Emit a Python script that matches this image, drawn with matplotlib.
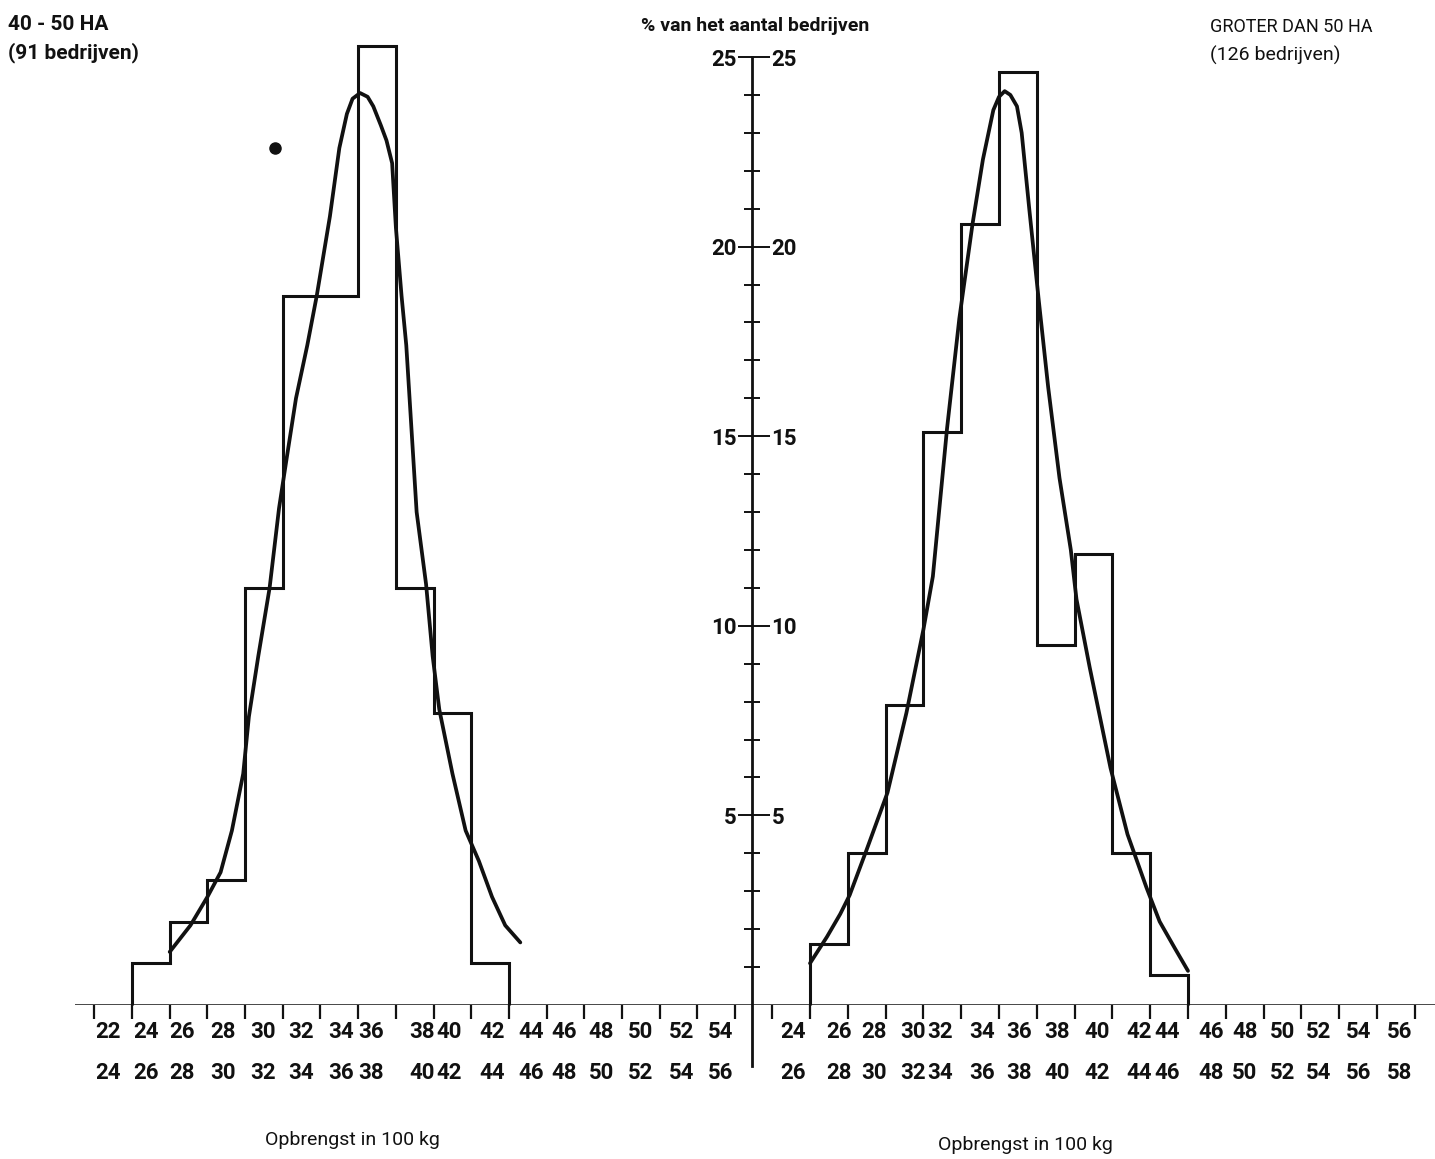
import matplotlib
matplotlib.use("Agg")
import matplotlib.pyplot as plt
from matplotlib.ticker import FixedLocator

plt.rcParams['font.family'] = ['Roboto', 'DejaVu Sans']

# ---------- data ----------

# bins are 2 units wide (opbrengst in 100 kg), lower edges
left_edges = list(range(24, 44, 2))
left_pct = [1.1, 2.2, 3.3, 11.0, 18.7, 18.7, 25.3, 11.0, 7.7, 1.1]

right_edges = list(range(24, 44, 2))
right_pct = [1.6, 4.0, 7.9, 15.1, 20.6, 24.6, 9.5, 11.9, 4.0, 0.8]

# hand-drawn fitted curves
left_curve_x = [26.0, 27.1, 28.0, 28.7, 29.3, 29.9, 30.2, 30.7, 31.3, 31.8, 32.2,
                32.7, 33.3, 33.8, 34.5, 35.0, 35.4, 35.7, 36.1, 36.5, 36.8, 37.2,
                37.5, 37.8, 38.0, 38.3, 38.55, 38.8, 39.1, 39.6, 39.95, 40.3, 41.0,
                41.7, 42.4, 43.1, 43.8, 44.6]
left_curve_y = [1.4, 2.1, 2.85, 3.5, 4.6, 6.1, 7.6, 9.2, 11.0, 13.1, 14.4,
                16.0, 17.4, 18.7, 20.8, 22.6, 23.5, 23.9, 24.05, 23.95, 23.7, 23.2,
                22.8, 22.2, 20.5, 18.7, 17.4, 15.4, 13.0, 11.1, 9.2, 7.8, 6.1,
                4.6, 3.8, 2.85, 2.1, 1.65]

right_curve_x = [24.0, 24.9, 25.6, 26.1, 27.0, 28.1, 29.1, 30.0, 30.5, 31.25, 31.9,
                 32.6, 33.15, 33.7, 34.0, 34.3, 34.6, 34.95, 35.2, 35.6, 36.1, 36.6,
                 37.2, 37.8, 38.1, 38.8, 39.9, 40.8, 41.8, 42.5, 43.3, 44.0]
right_curve_y = [1.1, 1.8, 2.4, 2.9, 4.1, 5.6, 7.7, 9.9, 11.3, 15.2, 18.1,
                 20.6, 22.3, 23.6, 23.95, 24.1, 24.0, 23.7, 23.0, 21.0, 18.6, 16.3,
                 13.9, 12.0, 10.7, 8.9, 6.25, 4.5, 3.1, 2.2, 1.5, 0.9]

# x-axis tick values and the two-row class labels
tick_vals = list(range(22, 58, 2))
left_lower = list(range(22, 56, 2))
right_lower = list(range(24, 58, 2))

y_major = [5, 10, 15, 20, 25]
y_minor = list(range(1, 25))

# visible speck on the scan
speck_x = [31.6]
speck_y = [22.6]

# ---------- layout (pixel based) ----------

W, H = 1435, 1159
PX_Y = 37.92           # pixels per percent
BASE = 1005            # baseline row in pixels
YTOP = 26.0

# slightly irregular typewriter placement of the class labels
left_nudge = [0.73, 0.75, 0.65, 0.85, 0.95, 0.95, 1.1, 0.7, 1.4, 0.8, 1.1, 1.15, 0.9, 0.9, 1.0, 1.15, 1.2]
right_nudge = [-0.9, -0.45, -0.6, -0.55, -1.1, -0.9, -0.95, -0.95, -0.8, -0.6, -1.1, -0.8,
               -1.0, -1.0, -1.1, -1.0, -0.8]

fig = plt.figure(figsize=(W / 100, H / 100), dpi=100)
fig.patch.set_facecolor('white')

ax_h = YTOP * PX_Y / H
ax_b = (H - BASE) / H
ax_l = fig.add_axes([75 / W, ax_b, (752 - 75) / W, ax_h])
ax_r = fig.add_axes([752 / W, ax_b, (W - 752) / W, ax_h])

ax_l.set_xlim(24 + (75 - 132) / 18.85, 24 + (752 - 132) / 18.85)
ax_r.set_xlim(24 + (752 - 810) / 18.9, 24 + (W - 810) / 18.9)

ink = '#111111'
num_size = 16

for ax, edges, pct, cx, cy, lower, nudge in [
        (ax_l, left_edges, left_pct, left_curve_x, left_curve_y, left_lower, left_nudge),
        (ax_r, right_edges, right_pct, right_curve_x, right_curve_y, right_lower, right_nudge)]:
    ax.set_ylim(0, YTOP)
    ax.set_facecolor('none')
    for s in ax.spines.values():
        s.set_visible(False)

    # histogram outline
    ax.stairs(pct, edges + [edges[-1] + 2], baseline=0, color=ink, lw=2.2,
              clip_on=False, zorder=3)
    # fitted curve
    ax.plot(cx, cy, color=ink, lw=2.7, solid_joinstyle='round',
            solid_capstyle='round', clip_on=False, zorder=4)

    # baseline
    ax.axhline(0, color=ink, lw=1.8, zorder=2)

    ax.set_xticks(tick_vals)
    ax.tick_params(axis='x', direction='out', length=10, width=1.6, color=ink,
                   labelbottom=False)

    # two rows of class labels under each tick interval
    for lo, dx in zip(lower, nudge):
        ax.text(lo + dx, -0.72, str(lo), ha='center', va='center',
                fontsize=num_size, fontweight='bold', color=ink, clip_on=False)
        ax.text(lo + dx, -1.80, str(lo + 2), ha='center', va='center',
                fontsize=num_size, fontweight='bold', color=ink, clip_on=False)

# central vertical axis with labels on both sides
x_c = ax_l.get_xlim()[1]
ax_l.plot([x_c, x_c], [-1.6, 25], color=ink, lw=2.0, clip_on=False, zorder=5)

ax_l.yaxis.tick_right()
ax_l.set_yticks(y_major)
ax_l.set_yticklabels([str(v) for v in y_major], fontweight='bold')
ax_l.tick_params(axis='y', which='major', direction='out', length=13, width=1.4,
                 pad=1, labelsize=num_size, colors=ink)

ax_r.yaxis.tick_left()
ax_r.set_yticks(y_major)
ax_r.set_yticklabels([str(v) for v in y_major], fontweight='bold')
ax_r.yaxis.set_minor_locator(FixedLocator(y_minor))
ax_r.tick_params(axis='y', which='major', direction='out', length=10, width=1.4,
                 pad=1, labelsize=num_size, colors=ink)
ax_r.tick_params(axis='y', which='minor', direction='inout', length=12, width=1.4,
                 color=ink)

ax_l.plot(speck_x, speck_y, 'o', color=ink, ms=8, zorder=4)

# x-axis titles
ax_l.text(35.7, -3.56, 'Opbrengst in 100 kg', ha='center', va='center',
          fontsize=14, color=ink, clip_on=False)
ax_r.text(35.4, -3.70, 'Opbrengst in 100 kg', ha='center', va='center',
          fontsize=14, color=ink, clip_on=False)

# headers
fig.text(8 / W, 1 - 24 / H, '40 - 50 HA', ha='left', va='center',
         fontsize=15, fontweight='bold', color=ink)
fig.text(8 / W, 1 - 53 / H, '(91 bedrijven)', ha='left', va='center',
         fontsize=15, fontweight='bold', color=ink)
fig.text(755 / W, 1 - 26 / H, '% van het aantal bedrijven', ha='center', va='center',
         fontsize=14, fontweight='bold', color=ink)
fig.text(1210 / W, 1 - 27 / H, 'GROTER DAN 50 HA', ha='left', va='center',
         fontsize=13, color=ink)
fig.text(1210 / W, 1 - 55 / H, '(126 bedrijven)', ha='left', va='center',
         fontsize=14, color=ink)

fig.savefig('out.png', dpi=100, facecolor='white')
